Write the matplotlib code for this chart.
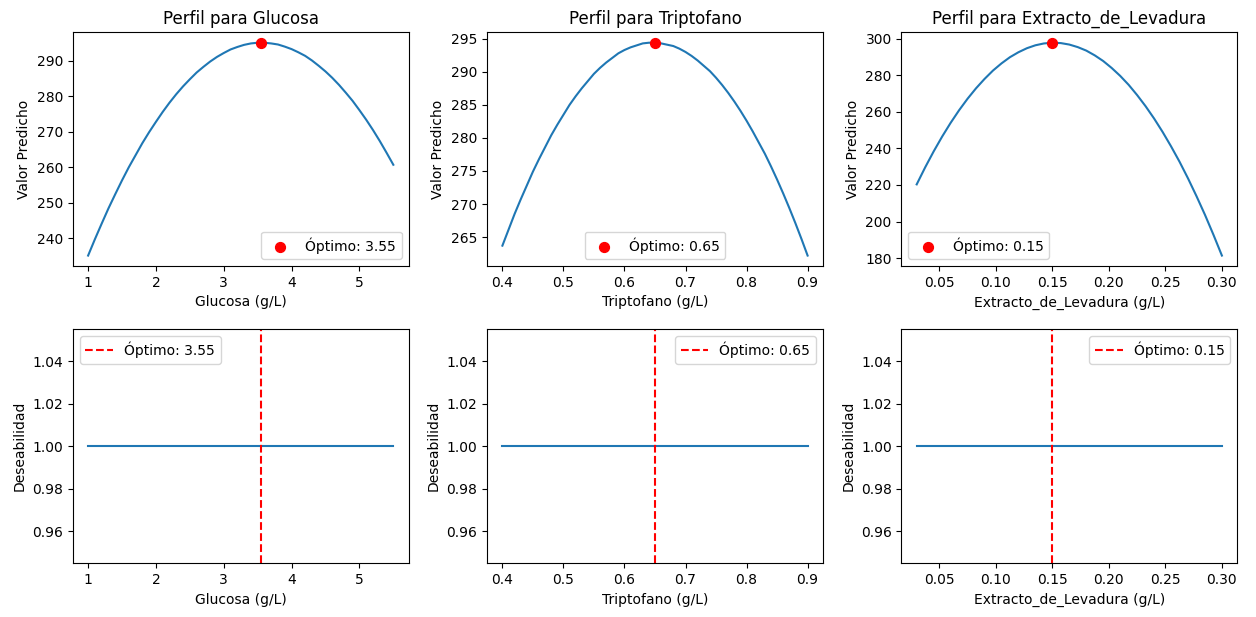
import matplotlib
matplotlib.use("Agg")
import matplotlib.pyplot as plt

# Perfiles de predicción por factor (valor predicho a lo largo del rango de cada variable)
glucosa_x = [1.0, 1.1, 1.2, 1.3, 1.4, 1.5, 1.6, 1.7, 1.8, 1.9,
             2.0, 2.1, 2.2, 2.3, 2.4, 2.5, 2.6, 2.7, 2.8, 2.9,
             3.0, 3.1, 3.2, 3.3, 3.4, 3.5, 3.6, 3.7, 3.8, 3.9,
             4.0, 4.1, 4.2, 4.3, 4.4, 4.5, 4.6, 4.7, 4.8, 4.9,
             5.0, 5.1, 5.2, 5.3, 5.4, 5.5]
glucosa_y = [235.1, 239.7, 244.1, 248.4, 252.4, 256.3, 260.0, 263.4, 266.8, 269.9,
             272.8, 275.6, 278.2, 280.6, 282.8, 284.8, 286.7, 288.3, 289.8, 291.1,
             292.2, 293.2, 293.9, 294.5, 294.9, 295.1, 295.1, 294.9, 294.6, 294.0,
             293.3, 292.4, 291.4, 290.1, 288.6, 287.0, 285.2, 283.2, 281.0, 278.7,
             276.1, 273.4, 270.5, 267.4, 264.1, 260.7]

triptofano_x = [0.40, 0.41, 0.42, 0.43, 0.44, 0.45, 0.46, 0.47, 0.48, 0.49,
                0.50, 0.51, 0.52, 0.53, 0.54, 0.55, 0.56, 0.57, 0.58, 0.59,
                0.60, 0.61, 0.62, 0.63, 0.64, 0.65, 0.66, 0.67, 0.68, 0.69,
                0.70, 0.71, 0.72, 0.73, 0.74, 0.75, 0.76, 0.77, 0.78, 0.79,
                0.80, 0.81, 0.82, 0.83, 0.84, 0.85, 0.86, 0.87, 0.88, 0.89, 0.90]
triptofano_y = [263.7, 266.1, 268.5, 270.7, 272.8, 274.9, 276.8, 278.6, 280.4, 282.0,
                283.5, 285.0, 286.3, 287.5, 288.6, 289.7, 290.6, 291.4, 292.1, 292.8,
                293.3, 293.7, 294.0, 294.3, 294.4, 294.4, 294.3, 294.1, 293.9, 293.5,
                293.0, 292.4, 291.7, 290.9, 290.1, 289.1, 288.0, 286.8, 285.5, 284.1,
                282.6, 281.0, 279.3, 277.6, 275.7, 273.7, 271.6, 269.4, 267.1, 264.7, 262.2]

levadura_x = [0.0300, 0.0375, 0.0450, 0.0525, 0.0600, 0.0675, 0.0750, 0.0825, 0.0900,
              0.0975, 0.1050, 0.1125, 0.1200, 0.1275, 0.1350, 0.1425, 0.1500, 0.1575,
              0.1650, 0.1725, 0.1800, 0.1875, 0.1950, 0.2025, 0.2100, 0.2175, 0.2250,
              0.2325, 0.2400, 0.2475, 0.2550, 0.2625, 0.2700, 0.2775, 0.2850, 0.2925, 0.3000]
levadura_y = [220.3, 229.6, 238.3, 246.4, 253.9, 260.8, 267.1, 272.8, 277.9,
              282.5, 286.4, 289.8, 292.5, 294.7, 296.3, 297.3, 297.7, 297.5,
              296.7, 295.3, 293.4, 290.8, 287.7, 283.9, 279.6, 274.7, 269.1,
              263.0, 256.3, 249.0, 241.1, 232.7, 223.6, 213.9, 203.7, 192.8, 181.4]

factores = ["Glucosa", "Triptofano", "Extracto_de_Levadura"]
xs = [glucosa_x, triptofano_x, levadura_x]
ys = [glucosa_y, triptofano_y, levadura_y]
optimos = [3.55, 0.65, 0.15]
pred_optimos = [295.1, 294.4, 297.7]
deseabilidad = [[1.0] * len(glucosa_x), [1.0] * len(triptofano_x), [1.0] * len(levadura_x)]

leg_perfil = ["lower right", "lower center", "lower left"]
leg_deseab = ["upper left", "upper right", "upper right"]

fig, axes = plt.subplots(2, 3, figsize=(12.56, 6.17))
fig.subplots_adjust(left=0.058, right=0.985, top=0.948, bottom=0.087,
                    wspace=0.234, hspace=0.269)

for i, nombre in enumerate(factores):
    ax = axes[0, i]
    ax.plot(xs[i], ys[i])
    ax.scatter([optimos[i]], [pred_optimos[i]], color="red", s=50, zorder=3,
               label=f"Óptimo: {optimos[i]:.2f}")
    ax.set_title(f"Perfil para {nombre}")
    ax.set_xlabel(f"{nombre} (g/L)")
    ax.set_ylabel("Valor Predicho")
    ax.legend(loc=leg_perfil[i])

    ax = axes[1, i]
    ax.plot(xs[i], deseabilidad[i])
    ax.axvline(optimos[i], color="red", linestyle="--", label=f"Óptimo: {optimos[i]:.2f}")
    ax.set_xlabel(f"{nombre} (g/L)")
    ax.set_ylabel("Deseabilidad")
    ax.legend(loc=leg_deseab[i])

plt.savefig("out.png", dpi=100)
